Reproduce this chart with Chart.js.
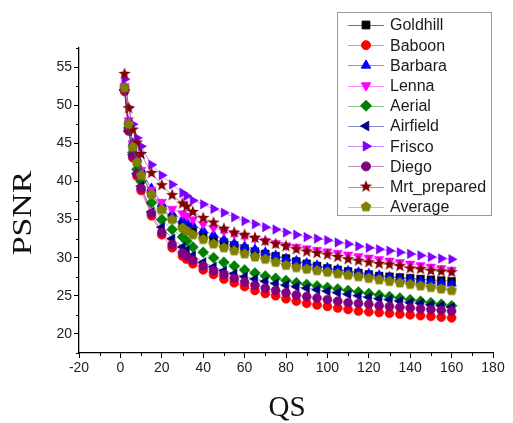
<!DOCTYPE html>
<html>
<head>
<meta charset="utf-8">
<script src="https://cdn.jsdelivr.net/npm/chart.js@4.4.0/dist/chart.umd.min.js"></script>
<style>
  html, body { margin: 0; padding: 0; background: #fff; }
  #wrap { width: 513px; height: 423px; }
</style>
</head>
<body>
<div id="wrap"><canvas id="chart" width="513" height="423"></canvas></div>
<script>
// QS values (x axis)
const qs = [2, 4, 6, 8, 10, 15, 20, 25, 30, 32, 35, 40, 45, 50, 55, 60, 65, 70, 75, 80,
    85, 90, 95, 100, 105, 110, 115, 120, 125, 130, 135, 140, 145, 150, 155, 160];

// tick labels
const xTicks = [-20, 0, 20, 40, 60, 80, 100, 120, 140, 160, 180];
const yTicks = [20, 25, 30, 35, 40, 45, 50, 55];

// PSNR per image
const goldhill = [52.2, 47.5, 44.6, 42.6, 41.0, 38.5, 36.5, 35.2, 34.2, 33.9, 33.4, 32.9, 32.4, 32.0, 31.6, 31.2, 30.8, 30.5, 30.2, 29.9,
    29.5, 29.2, 28.9, 28.6, 28.4, 28.2, 28.0, 27.8, 27.6, 27.5, 27.4, 27.3, 27.2, 27.1, 27.0, 26.9];
const baboon = [51.8, 46.6, 43.1, 40.7, 38.8, 35.5, 33.0, 31.3, 30.2, 29.8, 29.2, 28.4, 27.8, 27.2, 26.7, 26.2, 25.7, 25.3, 25.0, 24.6,
    24.3, 24.0, 23.8, 23.6, 23.4, 23.2, 23.0, 22.9, 22.8, 22.7, 22.6, 22.5, 22.4, 22.3, 22.2, 22.1];
const barbara = [52.4, 47.8, 45.0, 43.0, 41.4, 39.1, 37.0, 35.8, 35.0, 34.7, 34.3, 33.6, 33.0, 32.4, 31.9, 31.5, 31.1, 30.7, 30.3, 29.9,
    29.6, 29.3, 29.0, 28.7, 28.5, 28.3, 28.1, 27.9, 27.7, 27.5, 27.3, 27.2, 27.0, 26.9, 26.7, 26.6];
const lenna = [52.5, 48.0, 45.0, 43.0, 41.5, 38.9, 37.3, 36.4, 35.8, 35.5, 35.0, 34.4, 33.9, 33.5, 33.1, 32.8, 32.5, 32.2, 31.9, 31.6,
    31.4, 31.2, 31.0, 30.8, 30.6, 30.4, 30.2, 30.0, 29.8, 29.6, 29.4, 29.2, 29.0, 28.8, 28.6, 28.4];
const aerial = [52.0, 47.0, 43.8, 41.6, 40.0, 37.2, 35.0, 33.7, 32.7, 32.2, 31.4, 30.7, 30.0, 29.4, 28.9, 28.4, 28.0, 27.6, 27.3, 27.0,
    26.7, 26.5, 26.3, 26.1, 25.9, 25.7, 25.5, 25.3, 25.1, 24.9, 24.7, 24.5, 24.3, 24.1, 23.9, 23.7];
const airfield = [52.0, 46.6, 43.5, 41.0, 39.4, 36.0, 34.0, 32.5, 31.4, 31.0, 30.3, 29.4, 28.8, 28.3, 27.9, 27.5, 27.2, 26.9, 26.6, 26.4,
    26.2, 26.0, 25.8, 25.6, 25.4, 25.2, 25.0, 24.8, 24.6, 24.5, 24.3, 24.1, 24.0, 23.8, 23.7, 23.5];
const frisco = [53.4, 49.7, 47.5, 45.7, 44.6, 42.2, 40.8, 39.6, 38.5, 38.1, 37.5, 37.0, 36.4, 35.9, 35.3, 34.8, 34.4, 34.0, 33.7, 33.3,
    33.0, 32.7, 32.5, 32.3, 32.0, 31.8, 31.5, 31.3, 31.1, 30.9, 30.7, 30.5, 30.3, 30.1, 29.9, 29.8];
const diego = [52.0, 46.7, 43.3, 41.0, 39.1, 35.8, 33.3, 31.7, 30.6, 30.2, 29.7, 28.9, 28.3, 27.8, 27.3, 26.8, 26.4, 26.0, 25.7, 25.4,
    25.1, 24.9, 24.7, 24.5, 24.3, 24.1, 24.0, 23.9, 23.7, 23.6, 23.5, 23.4, 23.3, 23.2, 23.1, 23.0];
const mrtPrepared = [54.1, 49.6, 46.8, 45.1, 43.6, 41.1, 39.5, 38.2, 37.1, 36.7, 36.0, 35.2, 34.6, 33.8, 33.3, 33.0, 32.6, 32.2, 31.8, 31.5,
    31.1, 30.8, 30.6, 30.4, 30.1, 29.8, 29.6, 29.4, 29.2, 29.1, 28.9, 28.6, 28.5, 28.3, 28.2, 28.1];
const average = [52.3, 47.5, 44.5, 42.5, 40.8, 38.3, 36.3, 35.0, 33.9, 33.5, 33.0, 32.4, 31.8, 31.3, 30.9, 30.5, 30.1, 29.8, 29.4, 29.0,
    28.7, 28.5, 28.3, 28.1, 27.9, 27.7, 27.5, 27.3, 27.1, 26.9, 26.7, 26.5, 26.3, 26.1, 25.9, 25.7];

const seriesNames = ['Goldhill', 'Baboon', 'Barbara', 'Lenna', 'Aerial', 'Airfield', 'Frisco', 'Diego', 'Mrt_prepared', 'Average'];
const seriesValues = [goldhill, baboon, barbara, lenna, aerial, airfield, frisco, diego, mrtPrepared, average];

// custom marker shapes (filled star, pentagon)
function makeShape(color, points, outer, inner) {
    const c = document.createElement('canvas');
    c.width = 14; c.height = 14;
    const g = c.getContext('2d');
    g.fillStyle = color;
    g.beginPath();
    const n = inner ? points * 2 : points;
    for (let i = 0; i < n; i++) {
        const r = inner && i % 2 ? inner : outer;
        const a = -Math.PI / 2 + i * Math.PI * 2 / n;
        const px = 7 + r * Math.cos(a), py = 7 + r * Math.sin(a);
        i ? g.lineTo(px, py) : g.moveTo(px, py);
    }
    g.closePath();
    g.fill();
    return c;
}

const STYLES = [
    { color: '#000000', line: 'rgba(0,0,0,0.55)', pointStyle: 'rect', rotation: 0, radius: 5.5 },
    { color: '#ff0000', line: 'rgba(255,0,0,0.45)', pointStyle: 'circle', rotation: 0, radius: 4.5 },
    { color: '#0000ff', line: 'rgba(0,0,255,0.45)', pointStyle: 'triangle', rotation: 0, radius: 5.5 },
    { color: '#ff00ff', line: 'rgba(255,0,255,0.45)', pointStyle: 'triangle', rotation: 180, radius: 5.5 },
    { color: '#008000', line: 'rgba(0,128,0,0.45)', pointStyle: 'rectRot', rotation: 0, radius: 5.5 },
    { color: '#000080', line: 'rgba(0,0,128,0.45)', pointStyle: 'triangle', rotation: -90, radius: 5.5 },
    { color: '#8000ff', line: 'rgba(128,0,255,0.45)', pointStyle: 'triangle', rotation: 90, radius: 5.5 },
    { color: '#800080', line: 'rgba(128,0,128,0.45)', pointStyle: 'circle', rotation: 0, radius: 4.5 },
    { color: '#800000', line: 'rgba(128,0,0,0.45)', pointStyle: makeShape('#800000', 5, 6.5, 2.7), rotation: 0, radius: 5.5 },
    { color: '#808000', line: 'rgba(128,128,0,0.45)', pointStyle: makeShape('#808000', 5, 5.5, 0), rotation: 0, radius: 5.5 }
];

const datasets = seriesNames.map((name, i) => ({
    label: name,
    data: qs.map((q, j) => ({ x: q, y: seriesValues[i][j] })),
    borderColor: STYLES[i].line,
    borderWidth: 1,
    backgroundColor: STYLES[i].color,
    pointBackgroundColor: STYLES[i].color,
    pointBorderColor: STYLES[i].color,
    pointBorderWidth: 0.5,
    pointStyle: STYLES[i].pointStyle,
    pointRotation: STYLES[i].rotation,
    pointRadius: STYLES[i].radius,
    tension: 0,
    order: 20 - i   // later series drawn on top
}));

const TICK_FONT = { family: '"Liberation Sans", Arial, sans-serif', size: 14 };

// axis titles, minor ticks and the boxed legend
const decor = {
    id: 'decor',
    afterDraw(chart) {
        const ctx = chart.ctx;
        const xs = chart.scales.x, ys = chart.scales.y;
        ctx.save();

        // minor ticks halfway between the major ones
        ctx.strokeStyle = '#000';
        ctx.lineWidth = 1;
        ctx.beginPath();
        const xstep = xTicks[1] - xTicks[0];
        for (let k = 0; k < xTicks.length - 1; k++) {
            const px = Math.round(xs.getPixelForValue(xTicks[k] + xstep / 2)) + 0.5;
            ctx.moveTo(px, xs.top); ctx.lineTo(px, xs.top + 3);
        }
        const ystep = yTicks[1] - yTicks[0];
        for (let v = yTicks[0] - ystep / 2; v <= ys.max + 0.01; v += ystep) {
            const py = Math.round(ys.getPixelForValue(v)) + 0.5;
            ctx.moveTo(ys.right, py); ctx.lineTo(ys.right - 3, py);
        }
        ctx.stroke();

        // axis titles
        ctx.fillStyle = '#111';
        ctx.textAlign = 'center';
        ctx.textBaseline = 'middle';
        ctx.font = '29px "Liberation Serif", "Times New Roman", serif';
        ctx.fillText('QS', 287, 408);
        ctx.save();
        ctx.translate(24, 213);
        ctx.rotate(-Math.PI / 2);
        ctx.scale(1.25, 1);
        ctx.font = '27px "Liberation Serif", "Times New Roman", serif';
        ctx.fillText('PSNR', 0, 0);
        ctx.restore();

        // legend
        ctx.strokeStyle = '#9a9a9a';
        ctx.lineWidth = 1;
        ctx.strokeRect(337.5, 12.5, 154, 203);
        ctx.font = '16px "Liberation Sans", Arial, sans-serif';
        ctx.textAlign = 'left';
        chart.data.datasets.forEach((ds, i) => {
            const y = 25 + i * 20.2;
            ctx.strokeStyle = ds.borderColor;
            ctx.lineWidth = 1;
            ctx.beginPath();
            ctx.moveTo(348, Math.round(y) + 0.5);
            ctx.lineTo(384, Math.round(y) + 0.5);
            ctx.stroke();
            ctx.fillStyle = ds.pointBackgroundColor;
            ctx.strokeStyle = ds.pointBorderColor;
            if (Chart.helpers && Chart.helpers.drawPoint) {
                Chart.helpers.drawPoint(ctx, {
                    pointStyle: ds.pointStyle,
                    rotation: ds.pointRotation,
                    radius: ds.pointRadius,
                    borderWidth: 0.5
                }, 366, y);
            }
            ctx.fillStyle = '#1a1a1a';
            ctx.fillText(ds.label, 390, y + 1);
        });
        ctx.restore();
    }
};

new Chart(document.getElementById('chart'), {
    type: 'line',
    data: { datasets },
    options: {
        responsive: false,
        animation: false,
        layout: { padding: { left: 0, top: 48, right: 20, bottom: 0 } },
        plugins: {
            legend: { display: false },
            tooltip: { enabled: false }
        },
        scales: {
            x: {
                type: 'linear',
                min: -20,
                max: 180,
                afterBuildTicks: s => { s.ticks = xTicks.map(v => ({ value: v })); },
                ticks: { color: '#222', font: TICK_FONT, padding: 2, maxRotation: 0 },
                grid: { drawOnChartArea: false, drawTicks: true, tickLength: 5, tickColor: '#000' },
                border: { color: '#000', width: 1.3 },
                afterFit: s => { s.height = 70; }
            },
            y: {
                min: 17.5,
                max: 57.5,
                afterBuildTicks: s => { s.ticks = yTicks.map(v => ({ value: v })); },
                ticks: { color: '#222', font: TICK_FONT, padding: 2 },
                grid: { drawOnChartArea: false, drawTicks: true, tickLength: 5, tickColor: '#000' },
                border: { color: '#000', width: 1.3 },
                afterFit: s => { s.width = 79; }
            }
        }
    },
    plugins: [decor]
});
</script>
</body>
</html>
